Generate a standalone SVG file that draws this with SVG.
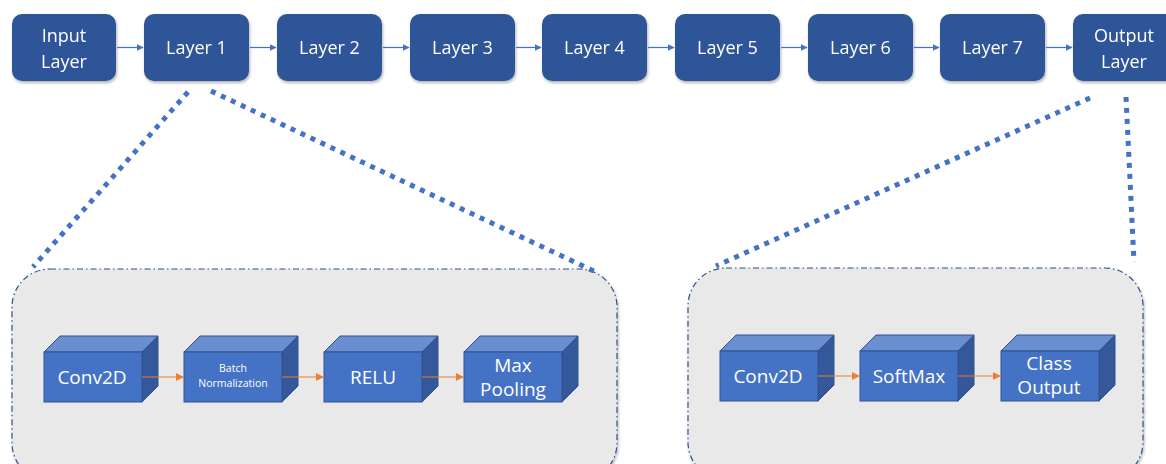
<svg xmlns="http://www.w3.org/2000/svg" width="1166" height="464" viewBox="0 0 1166 464">
  <defs>
    <style>
      .layer { fill: #2F5597; }
      .ltxt { fill: #ffffff; font-family: "Open Sans", "Noto Sans", sans-serif; font-size: 18px; text-anchor: middle; }
      .flow { stroke: #4472C4; stroke-width: 1.2; fill: none; }
      .zoom { stroke: #4472C4; stroke-width: 5; stroke-dasharray: 5 6; fill: none; }
      .panel { fill: #E9E9E9; stroke: #2F528F; stroke-width: 1.2; stroke-dasharray: 6 3 1.5 3; }
      .front { fill: #4472C4; stroke: #2F528F; stroke-width: 1; }
      .top { fill: #6A8FD0; stroke: #2F528F; stroke-width: 1; }
      .side { fill: #34589A; stroke: #2F528F; stroke-width: 1; }
      .btxt { fill: #ffffff; font-family: "Open Sans", "Noto Sans", sans-serif; font-size: 19px; text-anchor: middle; }
      .stxt { fill: #ffffff; font-family: "Open Sans", "Noto Sans", sans-serif; font-size: 10.5px; text-anchor: middle; }
      .orange { stroke: #ED7D31; stroke-width: 1.2; fill: none; }
    </style>
    <marker id="ah" viewBox="0 0 10 10" refX="9" refY="5" markerWidth="7" markerHeight="7" orient="auto" markerUnits="userSpaceOnUse">
      <path d="M0,0 L10,5 L0,10 z" fill="#4472C4"/>
    </marker>
    <marker id="ao" viewBox="0 0 10 10" refX="9" refY="5" markerWidth="8" markerHeight="8" orient="auto" markerUnits="userSpaceOnUse">
      <path d="M0,0 L10,5 L0,10 z" fill="#ED7D31"/>
    </marker>
    <filter id="sh" x="-20%" y="-20%" width="140%" height="150%">
      <feGaussianBlur in="SourceAlpha" stdDeviation="1.5"/>
      <feOffset dx="1" dy="2" result="b"/>
      <feComponentTransfer><feFuncA type="linear" slope="0.3"/></feComponentTransfer>
      <feMerge><feMergeNode/><feMergeNode in="SourceGraphic"/></feMerge>
    </filter>
    <!-- 3D block: front face 98x50, depth 16 -->
    <g id="block">
      <path class="top" d="M0,0 L16,-16 L114,-16 L98,0 z"/>
      <path class="side" d="M98,0 L114,-16 L114,34 L98,50 z"/>
      <rect class="front" x="0" y="0" width="98" height="50"/>
    </g>
  </defs>

  <!-- detail panels -->
  <g id="panel-layer1">
    <rect class="panel" x="12" y="269" width="605" height="212" rx="38" filter="url(#sh)"/>
  </g>
  <g id="panel-output">
    <rect class="panel" x="688" y="268" width="455" height="212" rx="38" filter="url(#sh)"/>
  </g>

  <!-- main pipeline -->
  <g id="input-layer" filter="url(#sh)">
    <rect class="layer" x="12" y="14" width="104" height="67" rx="10"/>
    <text class="ltxt" x="64" y="42">Input</text>
    <text class="ltxt" x="64" y="68">Layer</text>
  </g>
  <g id="layer-1" filter="url(#sh)">
    <rect class="layer" x="144" y="14" width="105" height="67" rx="10"/>
    <text class="ltxt" x="196.5" y="54">Layer 1</text>
  </g>
  <g id="layer-2" filter="url(#sh)">
    <rect class="layer" x="277" y="14" width="105" height="67" rx="10"/>
    <text class="ltxt" x="329.5" y="54">Layer 2</text>
  </g>
  <g id="layer-3" filter="url(#sh)">
    <rect class="layer" x="410" y="14" width="105" height="67" rx="10"/>
    <text class="ltxt" x="462.5" y="54">Layer 3</text>
  </g>
  <g id="layer-4" filter="url(#sh)">
    <rect class="layer" x="542" y="14" width="105" height="67" rx="10"/>
    <text class="ltxt" x="594.5" y="54">Layer 4</text>
  </g>
  <g id="layer-5" filter="url(#sh)">
    <rect class="layer" x="675" y="14" width="105" height="67" rx="10"/>
    <text class="ltxt" x="727.5" y="54">Layer 5</text>
  </g>
  <g id="layer-6" filter="url(#sh)">
    <rect class="layer" x="808" y="14" width="105" height="67" rx="10"/>
    <text class="ltxt" x="860.5" y="54">Layer 6</text>
  </g>
  <g id="layer-7" filter="url(#sh)">
    <rect class="layer" x="940" y="14" width="105" height="67" rx="10"/>
    <text class="ltxt" x="992.5" y="54">Layer 7</text>
  </g>
  <g id="output-layer" filter="url(#sh)">
    <rect class="layer" x="1073" y="14" width="105" height="67" rx="10"/>
    <text class="ltxt" x="1124" y="42">Output</text>
    <text class="ltxt" x="1124" y="68">Layer</text>
  </g>

  <!-- Layer 1 internals -->
  <g id="l1-conv2d">
    <use href="#block" x="44" y="352"/>
    <text class="btxt" x="92" y="384">Conv2D</text>
  </g>
  <g id="l1-batchnorm">
    <use href="#block" x="184" y="352"/>
    <text class="stxt" x="233" y="372">Batch</text>
    <text class="stxt" x="233" y="387">Normalization</text>
  </g>
  <g id="l1-relu">
    <use href="#block" x="324" y="352"/>
    <text class="btxt" x="373" y="384">RELU</text>
  </g>
  <g id="l1-maxpool">
    <use href="#block" x="464" y="352"/>
    <text class="btxt" x="513" y="372">Max</text>
    <text class="btxt" x="513" y="396">Pooling</text>
  </g>

  <!-- Output layer internals -->
  <g id="out-conv2d">
    <use href="#block" x="720" y="351"/>
    <text class="btxt" x="768" y="383">Conv2D</text>
  </g>
  <g id="out-softmax">
    <use href="#block" x="860" y="351"/>
    <text class="btxt" x="909" y="383">SoftMax</text>
  </g>
  <g id="out-class">
    <use href="#block" x="1001" y="351"/>
    <text class="btxt" x="1049" y="370">Class</text>
    <text class="btxt" x="1049" y="394">Output</text>
  </g>

  <!-- connectors -->
  <g id="connectors">
    <line class="flow" x1="117" y1="47.5" x2="143" y2="47.5" marker-end="url(#ah)"/>
    <line class="flow" x1="250" y1="47.5" x2="276" y2="47.5" marker-end="url(#ah)"/>
    <line class="flow" x1="383" y1="47.5" x2="409" y2="47.5" marker-end="url(#ah)"/>
    <line class="flow" x1="516" y1="47.5" x2="541" y2="47.5" marker-end="url(#ah)"/>
    <line class="flow" x1="648" y1="47.5" x2="674" y2="47.5" marker-end="url(#ah)"/>
    <line class="flow" x1="781" y1="47.5" x2="807" y2="47.5" marker-end="url(#ah)"/>
    <line class="flow" x1="914" y1="47.5" x2="939" y2="47.5" marker-end="url(#ah)"/>
    <line class="flow" x1="1046" y1="47.5" x2="1072" y2="47.5" marker-end="url(#ah)"/>

    <line class="orange" x1="142" y1="377" x2="183" y2="377" marker-end="url(#ao)"/>
    <line class="orange" x1="282" y1="377" x2="323" y2="377" marker-end="url(#ao)"/>
    <line class="orange" x1="422" y1="377" x2="463" y2="377" marker-end="url(#ao)"/>
    <line class="orange" x1="818" y1="376" x2="859" y2="376" marker-end="url(#ao)"/>
    <line class="orange" x1="958" y1="376" x2="1000" y2="376" marker-end="url(#ao)"/>

    <!-- zoom-out guides -->
    <line class="zoom" x1="188" y1="92" x2="33" y2="267"/>
    <line class="zoom" x1="211" y1="91" x2="598" y2="273"/>
    <line class="zoom" x1="1090" y1="98" x2="716" y2="266"/>
    <line class="zoom" x1="1126" y1="97" x2="1134" y2="262"/>
  </g>
</svg>
